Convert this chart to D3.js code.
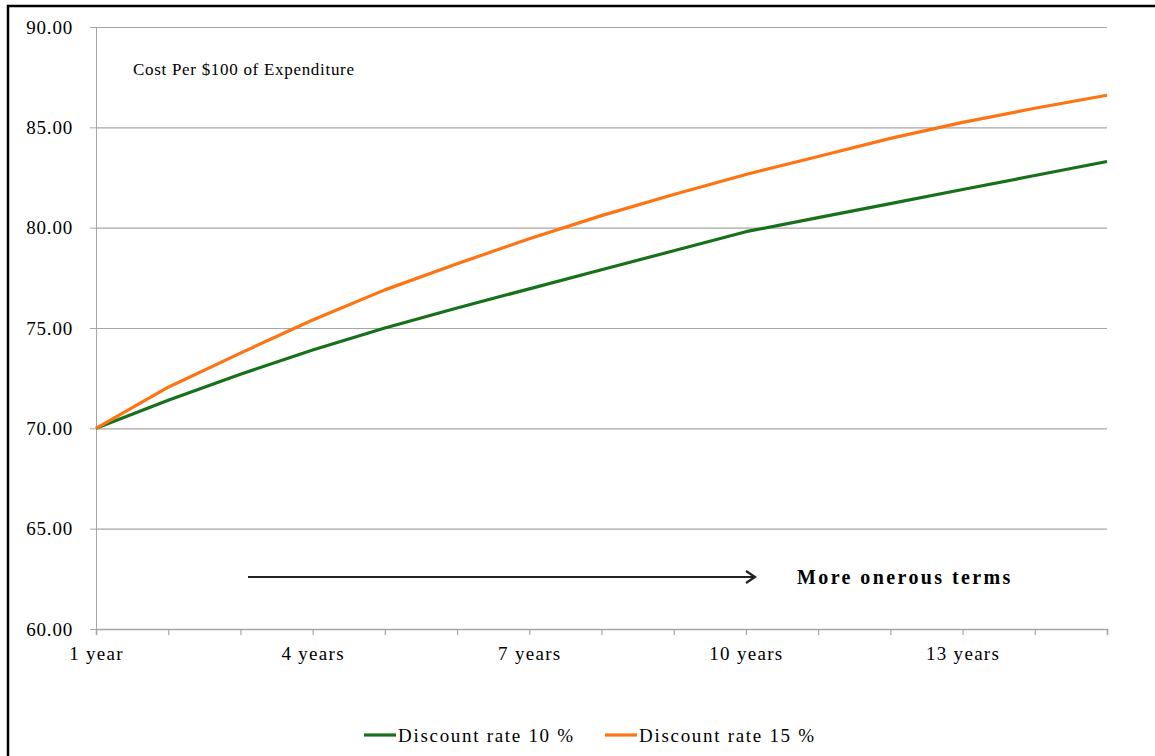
<!DOCTYPE html>
<html>
<head>
<meta charset="utf-8">
<script src="https://cdn.jsdelivr.net/npm/d3@7"></script>
<style>
  html, body { margin: 0; padding: 0; background: #fff; }
  svg { display: block; }
  text { font-family: "Liberation Serif", "DejaVu Serif", serif; fill: #000; }
</style>
</head>
<body>
<svg id="chart" width="1155" height="756"></svg>
<script>
// Term lengths (years) on the category axis
const years = d3.range(1, 16);
const categories = years.map(y => y === 1 ? "1 year" : y + " years");
const labelledCategories = ["1 year", "4 years", "7 years", "10 years", "13 years"];

// Cost per $100 of expenditure for each discount rate
const rate10 = [70.0, 71.4, 72.7, 73.9, 75.0, 76.0, 76.95, 77.9, 78.85, 79.8, 80.5, 81.2, 81.9, 82.6, 83.3];
const rate15 = [70.0, 72.05, 73.75, 75.4, 76.9, 78.2, 79.45, 80.6, 81.65, 82.65, 83.55, 84.45, 85.25, 85.95, 86.6];

const yTicks = [60, 65, 70, 75, 80, 85, 90];
const seriesNames = ["Discount rate 10 %", "Discount rate 15 %"];
const seriesColors = ["#17701a", "#ff7412"];

const svg = d3.select("#chart");
const plot = { left: 96, right: 1107, top: 27, bottom: 629 };

// Outer frame (left and top edges visible)
svg.append("rect")
  .attr("x", 8).attr("y", 6)
  .attr("width", 1200).attr("height", 800)
  .attr("fill", "none").attr("stroke", "#000").attr("stroke-width", 2.5);

const x = d3.scalePoint().domain(categories).range([plot.left, plot.right]);
const y = d3.scaleLinear().domain([60, 90]).range([plot.bottom, plot.top]);

// Horizontal gridlines with short ticks to the left of the axis
const yAxis = d3.axisLeft(y).tickValues(yTicks).tickFormat(d3.format(".2f"))
  .tickSize(6).tickPadding(17);
const gy = svg.append("g").attr("transform", `translate(${plot.left},0)`).call(yAxis);
gy.select(".domain").attr("stroke", "#a6a6a6");
gy.selectAll(".tick line").attr("stroke", "#a6a6a6");
gy.selectAll(".tick text")
  .style("font-size", "19px").style("letter-spacing", "0.8px")
  .attr("font-family", null);

svg.append("g").selectAll("line").data(yTicks.filter(v => v !== 60)).join("line")
  .attr("x1", plot.left).attr("x2", plot.right)
  .attr("y1", d => y(d) + 0.5).attr("y2", d => y(d) + 0.5)
  .attr("stroke", "#a6a6a6").attr("stroke-width", 1.2);

// Category axis with a tick at every year, labels every third year
const xAxis = d3.axisBottom(x).tickSize(6).tickPadding(12)
  .tickFormat(d => labelledCategories.includes(d) ? d : "");
const gx = svg.append("g").attr("transform", `translate(0,${plot.bottom})`).call(xAxis);
gx.select(".domain").attr("stroke", "#a6a6a6").attr("stroke-width", 1.5);
gx.selectAll(".tick line").attr("stroke", "#a6a6a6").attr("stroke-width", 1.2);
gx.selectAll(".tick text")
  .style("font-size", "19px").style("letter-spacing", "1.3px")
  .attr("font-family", null);
svg.selectAll(".tick text").attr("fill", "#000");

// Series lines
const line = d3.line()
  .x((d, i) => x(categories[i]))
  .y(d => y(d));

[rate10, rate15].forEach((vals, k) => {
  svg.append("path")
    .datum(vals)
    .attr("d", line)
    .attr("fill", "none")
    .attr("stroke", seriesColors[k])
    .attr("stroke-width", 3.2)
    .attr("stroke-linejoin", "round");
});

// Chart note
svg.append("text")
  .attr("x", 133).attr("y", 75)
  .style("font-size", "17px").style("letter-spacing", "0.7px")
  .text("Cost Per $100 of Expenditure");

// Direction arrow
const arrowY = 577;
svg.append("line")
  .attr("x1", 248).attr("x2", 754)
  .attr("y1", arrowY).attr("y2", arrowY)
  .attr("stroke", "#222").attr("stroke-width", 2.2);
svg.append("path")
  .attr("d", `M${746},${arrowY - 6} L${755},${arrowY} L${746},${arrowY + 6}`)
  .attr("fill", "none").attr("stroke", "#222").attr("stroke-width", 2.2);

svg.append("text")
  .attr("x", 797).attr("y", 584)
  .style("font-size", "20px").style("font-weight", "bold").style("letter-spacing", "2.4px")
  .text("More onerous terms");

// Legend
const legendItems = [
  { name: seriesNames[0], color: seriesColors[0], x: 364 },
  { name: seriesNames[1], color: seriesColors[1], x: 605 }
];
const lg = svg.append("g").selectAll("g").data(legendItems).join("g")
  .attr("transform", d => `translate(${d.x},735)`);
lg.append("line")
  .attr("x1", 0).attr("x2", 32).attr("y1", 0).attr("y2", 0)
  .attr("stroke", d => d.color).attr("stroke-width", 3.2);
lg.append("text")
  .attr("x", 34).attr("y", 7)
  .style("font-size", "19px").style("letter-spacing", "1.7px")
  .text(d => d.name);
</script>
</body>
</html>
